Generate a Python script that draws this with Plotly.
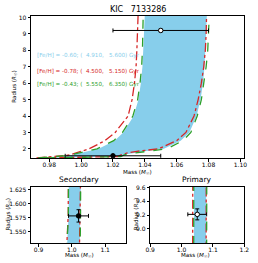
import plotly.graph_objects as go

# Radius grid (R_sun) shared by the isochrone boundary curves
radius_grid = [1.45, 1.5, 1.53, 1.58, 1.63, 1.75, 1.85, 2.0, 2.5, 3.0, 4.0, 5.0, 6.0, 7.0, 8.0, 9.0, 10.2]

# [Fe/H] = -0.60 (blue): old (5.600 Gyr) and young (4.910 Gyr) boundaries, mass in M_sun
blue_old = [0.974, 0.982, 0.986, 0.990, 0.994, 1.000, 1.005, 1.011, 1.021, 1.0265, 1.033, 1.036, 1.0375, 1.0385, 1.039, 1.0395, 1.040]
blue_young = [0.977, 1.005, 1.024, 1.025, 1.0255, 1.032, 1.040, 1.052, 1.0625, 1.068, 1.0725, 1.075, 1.0765, 1.0775, 1.078, 1.0785, 1.079]
# [Fe/H] = -0.78 (red)
red_old = [0.972, 0.980, 0.985, 0.989, 0.993, 0.997, 1.000, 1.005, 1.015, 1.0214, 1.0295, 1.032, 1.0335, 1.0345, 1.035, 1.0355, 1.0358]
red_young = [0.975, 1.003, 1.023, 1.024, 1.025, 1.029, 1.035, 1.0487, 1.060, 1.0658, 1.0709, 1.0735, 1.0755, 1.077, 1.078, 1.0785, 1.0788]
# [Fe/H] = -0.43 (green)
green_old = [0.973, 0.981, 0.9855, 0.9895, 0.9935, 0.999, 1.004, 1.010, 1.0205, 1.026, 1.0325, 1.0355, 1.037, 1.038, 1.0385, 1.0388, 1.039]
green_young = [0.978, 1.006, 1.025, 1.026, 1.027, 1.034, 1.042, 1.0537, 1.064, 1.0689, 1.0729, 1.0755, 1.077, 1.0785, 1.0795, 1.080, 1.0805]

# Stars
star_names = ["Secondary", "Primary"]
star_mass = [1.02, 1.05]
star_mass_err = [0.03, 0.03]
star_radius = [1.578, 9.21]
star_radius_err = [0.011, 0.08]

legend_labels = [
    "[Fe/H] = -0.60; (  4.910,   5.600) Gyr",
    "[Fe/H] = -0.78; (  4.500,   5.150) Gyr",
    "[Fe/H] = -0.43; (  5.550,   6.350) Gyr",
]

BLUE = "#87CEEB"
RED = "#d62728"
GREEN = "#2ca02c"
FONT = "DejaVu Sans"

fig = go.Figure()

axes_sets = [("x", "y"), ("x2", "y2"), ("x3", "y3")]
for xa, ya in axes_sets:
    # filled blue band
    fig.add_trace(go.Scatter(
        x=blue_old + blue_young[::-1], y=radius_grid + radius_grid[::-1],
        fill="toself", fillcolor=BLUE, line=dict(width=0), mode="lines",
        xaxis=xa, yaxis=ya, showlegend=False, hoverinfo="skip"))
    for m in (red_old, red_young):
        fig.add_trace(go.Scatter(x=m, y=radius_grid, mode="lines",
                                 line=dict(color=RED, width=1.3, dash="dashdot"),
                                 xaxis=xa, yaxis=ya, showlegend=False))
    for m in (green_old, green_young):
        fig.add_trace(go.Scatter(x=m, y=radius_grid, mode="lines",
                                 line=dict(color=GREEN, width=1.3, dash="dash"),
                                 xaxis=xa, yaxis=ya, showlegend=False))
    for i in range(2):
        fig.add_trace(go.Scatter(
            x=[star_mass[i]], y=[star_radius[i]], mode="markers",
            marker=dict(size=4.5, color="white" if i == 1 else "black",
                        line=dict(color="black", width=1)),
            error_x=dict(type="data", array=[star_mass_err[i]], color="black", thickness=1, width=2),
            error_y=dict(type="data", array=[star_radius_err[i]], color="black", thickness=1, width=2),
            xaxis=xa, yaxis=ya, showlegend=False))

W, H = 258, 263
def fx(px):
    return px / W
def fy(py):
    return 1 - py / H

axis_common = dict(showline=True, linecolor="black", linewidth=0.8, mirror=True,
                   ticks="outside", ticklen=2.5, tickwidth=0.8, tickcolor="black",
                   showgrid=False, zeroline=False,
                   tickfont=dict(family=FONT, size=6, color="black"))
xaxis_extra = dict(ticklabelstandoff=-2)
title_font = dict(family=FONT, size=5.6, color="black")
mass_title = "Mass (<i>M</i><sub>☉</sub>)"
rad_title = "Radius (<i>R</i><sub>☉</sub>)"

fig.update_layout(
    width=W, height=H, margin=dict(l=0, r=0, t=0, b=0),
    paper_bgcolor="white", plot_bgcolor="white",
    xaxis=dict(domain=[fx(27), fx(249)], range=[0.9685, 1.1025], anchor="y",
               tickvals=[0.98, 1.00, 1.02, 1.04, 1.06, 1.08, 1.10], tickformat=".2f",
               **axis_common, **xaxis_extra),
    yaxis=dict(domain=[fy(157), fy(13)], range=[1.43, 10.1], anchor="x",
               tickvals=[2, 3, 4, 5, 6, 7, 8, 9, 10], **axis_common),
    xaxis2=dict(domain=[fx(27), fx(126)], range=[0.877, 1.163], anchor="y2",
                tickvals=[0.9, 1.0, 1.1], tickformat=".1f", **axis_common, **xaxis_extra),
    yaxis2=dict(domain=[fy(243), fy(186)], range=[1.5293, 1.6297], anchor="x2",
                tickvals=[1.550, 1.575, 1.600, 1.625], tickformat=".3f", **axis_common),
    xaxis3=dict(domain=[fx(151), fx(249)], range=[0.9, 1.2], anchor="y3",
                tickvals=[0.9, 1.0, 1.1, 1.2], tickformat=".1f", **axis_common, **xaxis_extra),
    yaxis3=dict(domain=[fy(243), fy(186)], range=[8.79, 9.61], anchor="x3",
                tickvals=[9.0, 9.2, 9.4, 9.6], tickformat=".1f", **axis_common),
)

def txt(text, x, y, size, color="black", angle=0, xanchor="center"):
    return dict(text=text, x=fx(x), y=fy(y), xref="paper", yref="paper",
                xanchor=xanchor, yanchor="middle", showarrow=False, textangle=angle,
                font=dict(family=FONT, size=size, color=color))

annotations = [
    txt("KIC   7133286", 138, 7, 8),
    txt(star_names[0], 76.5, 178.5, 7.5),
    txt(star_names[1], 200, 178.5, 7.5),
    txt(mass_title, 138, 171, 5.6),
    txt(mass_title, 77, 255.5, 5.6),
    txt(mass_title, 198, 255.5, 5.6),
    txt(rad_title, 9, 85, 5.6, angle=-90),
    txt(rad_title, 4, 214, 5.6, angle=-90),
    txt(rad_title, 137, 214, 5.6, angle=-90),
]
for lbl, col, py in zip(legend_labels, [BLUE, RED, GREEN], [53.5, 69.5, 82.5]):
    annotations.append(txt(lbl, 31, py, 5.6, color=col, xanchor="left"))
fig.update_layout(annotations=annotations)

fig.write_html("out.html", config={"displayModeBar": False},
               post_script="document.body.style.margin='0px';document.body.style.overflow='hidden';")
